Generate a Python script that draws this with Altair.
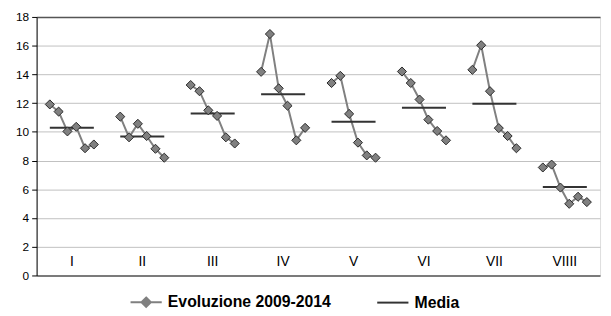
import altair as alt
import pandas as pd

groups = ["I", "II", "III", "IV", "V", "VI", "VII", "VIIII"]
years = [2009, 2010, 2011, 2012, 2013, 2014]
v_I = [11.91, 11.41, 10.03, 10.35, 8.86, 9.12]
v_II = [11.06, 9.62, 10.56, 9.71, 8.82, 8.20]
v_III = [13.26, 12.83, 11.50, 11.11, 9.62, 9.19]
v_IV = [14.18, 16.81, 13.03, 11.82, 9.41, 10.28]
v_V = [13.40, 13.90, 11.25, 9.25, 8.36, 8.20]
v_VI = [14.20, 13.40, 12.25, 10.85, 10.06, 9.41]
v_VII = [14.32, 16.03, 12.83, 10.26, 9.71, 8.86]
v_VIIII = [7.52, 7.72, 6.12, 4.99, 5.48, 5.11]
media = [10.28, 9.67, 11.27, 12.62, 10.70, 11.68, 11.95, 6.16]

series_names = ["Evoluzione 2009-2014", "Media"]
all_vals = [v_I, v_II, v_III, v_IV, v_V, v_VI, v_VII, v_VIIII]

SLOTS = 8  # slots per group: 1 gap, 6 years, 1 gap
rows = []
for g, (name, vals) in enumerate(zip(groups, all_vals)):
    for j, (yr, v) in enumerate(zip(years, vals)):
        rows.append({"group": name, "year": yr, "x": g * SLOTS + j + 1.5,
                     "value": v, "series": series_names[0]})
df = pd.DataFrame(rows)

mrows = []
for g, (name, m) in enumerate(zip(groups, media)):
    mrows.append({"group": name, "x": g * SLOTS + 1.5, "x2": g * SLOTS + 6.5,
                  "value": m, "series": series_names[1]})
dm = pd.DataFrame(mrows)

dl = pd.DataFrame({"group": groups,
                   "x": [g * SLOTS + SLOTS / 2 for g in range(len(groups))],
                   "y": [0.95] * len(groups)})

xscale = alt.Scale(domain=[0, SLOTS * len(groups)], nice=False, zero=False)
yscale = alt.Scale(domain=[0, 18], nice=False)
cscale = alt.Scale(domain=series_names, range=["#808080", "#333333"])
sscale = alt.Scale(domain=series_names,
                   range=["M-1,0H1M0,-0.3L0.3,0L0,0.3L-0.3,0Z", "M-1,0H1"])

legend = alt.Legend(title=None, orient="none", legendX=94, legendY=272,
                    direction="horizontal", symbolSize=1000,
                    symbolStrokeWidth=2, labelFont="Liberation Sans",
                    labelFontSize=16, labelFontWeight="bold", labelLimit=400,
                    labelColor="#000000", columnPadding=42, labelOffset=5)

yaxis = alt.Axis(title=None, values=list(range(0, 19, 2)), grid=True,
                 gridColor={"condition": {"test": "datum.value == 18 || datum.value == 0",
                                          "value": "#555555"},
                            "value": "#c0c0c0"},
                 gridWidth={"condition": {"test": "datum.value == 18 || datum.value == 0",
                                          "value": 1.5},
                            "value": 1},
                 domainColor="#000000",
                 tickColor="#000000", tickSize=5, labelFont="Liberation Sans",
                 labelFontSize=12, labelColor="#000000", labelPadding=3,
                 labelOverlap=False)


def Y(field):
    return alt.Y(field, scale=yscale, axis=yaxis)


base = alt.Chart(df)
lines = base.mark_line(strokeWidth=2).encode(
    x=alt.X("x:Q", scale=xscale, axis=None),
    y=Y("value:Q"),
    detail="group:N",
    color=alt.Color("series:N", scale=cscale, legend=legend),
)
points = base.mark_point(filled=True, size=85, stroke="#2a2a2a", shape="diamond",
                         strokeWidth=1, opacity=1).encode(
    x=alt.X("x:Q", scale=xscale, axis=None),
    y=Y("value:Q"),
    color=alt.Color("series:N", scale=cscale, legend=legend),
)
# legend-only layer: carries the shape scale, draws nothing in the plot
legend_layer = base.transform_filter("false").mark_point(
    filled=True, opacity=1).encode(
    x=alt.X("x:Q", scale=xscale, axis=None),
    y=Y("value:Q"),
    color=alt.Color("series:N", scale=cscale, legend=legend),
    shape=alt.Shape("series:N", scale=sscale, legend=legend),
)
rules = alt.Chart(dm).mark_rule(strokeWidth=2).encode(
    x=alt.X("x:Q", scale=xscale, axis=None),
    x2="x2:Q",
    y=Y("value:Q"),
    color=alt.Color("series:N", scale=cscale, legend=legend),
)
labels = alt.Chart(dl).mark_text(font="Liberation Sans", fontSize=14,
                                 color="#000000", baseline="middle").encode(
    x=alt.X("x:Q", scale=xscale, axis=None),
    y=Y("y:Q"),
    text="group:N",
)

chart = alt.layer(lines, rules, points, labels, legend_layer).properties(
    width=571, height=262,
    autosize=alt.AutoSizeParams(type="none"),
    padding={"left": 29, "top": 7, "right": 3, "bottom": 39},
).configure_view(stroke="#555555", strokeWidth=1.5).configure(background="white")

chart.save("out.html", embed_options={"renderer": "svg", "actions": False})
